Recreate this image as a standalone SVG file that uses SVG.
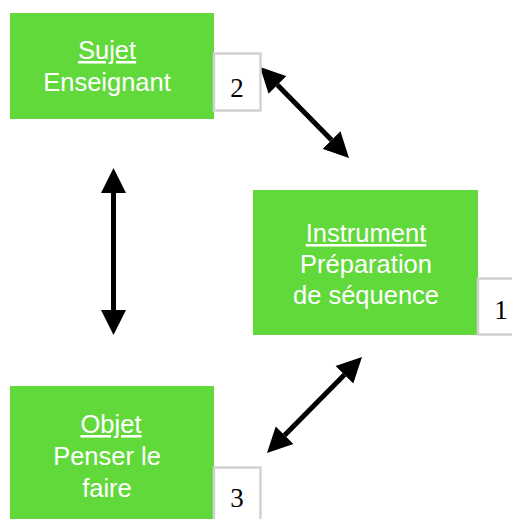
<svg xmlns="http://www.w3.org/2000/svg" width="512" height="519" viewBox="0 0 512 519">
  <style>
    .box { fill: #62d93b; }
    .lbl { font-family: "Liberation Sans", Arial, sans-serif; font-size: 25.5px; fill: #ffffff; text-anchor: middle; }
    .u { text-decoration: underline; }
    .num rect { fill: #ffffff; stroke: #d2d2d2; stroke-width: 2.5; }
    .num text { font-family: "Liberation Serif", "Times New Roman", serif; font-size: 27px; fill: #000000; text-anchor: middle; }
    .conn { stroke: #000000; stroke-width: 5; fill: none; marker-start: url(#head); marker-end: url(#head); }
  </style>
  <defs>
    <marker id="head" markerUnits="userSpaceOnUse" markerWidth="26" markerHeight="26" refX="0" refY="13" orient="auto-start-reverse" viewBox="0 0 26 26">
      <path d="M0,0.5 L25,13 L0,25.5 z" fill="#000000"/>
    </marker>
  </defs>
  <rect width="512" height="519" fill="#ffffff"/>

  <g id="connectors">
    <path class="conn" d="M277.5,84.9 L331.5,140.1"/>
    <path class="conn" d="M113.5,193 L113.5,310"/>
    <path class="conn" d="M344.4,374.8 L284.6,435.2"/>
  </g>

  <g id="sujet">
    <rect class="box" x="10" y="13" width="204" height="106"/>
    <text class="lbl u" x="107" y="59">Sujet</text>
    <text class="lbl" x="107" y="91">Enseignant</text>
  </g>
  <g id="num2" class="num">
    <rect x="214" y="53.5" width="46.5" height="57"/>
    <text x="237" y="97">2</text>
  </g>

  <g id="instrument">
    <rect class="box" x="253" y="190" width="225" height="145"/>
    <text class="lbl u" x="366" y="242">Instrument</text>
    <text class="lbl" x="366" y="273">Préparation</text>
    <text class="lbl" x="366" y="304">de séquence</text>
  </g>
  <g id="num1" class="num">
    <rect x="478" y="278.5" width="40" height="56"/>
    <text x="501" y="319">1</text>
  </g>

  <g id="objet">
    <rect class="box" x="10" y="386" width="204" height="140"/>
    <text class="lbl u" x="111" y="433">Objet</text>
    <text class="lbl" x="107" y="465">Penser le</text>
    <text class="lbl" x="107" y="497">faire</text>
  </g>
  <g id="num3" class="num">
    <rect x="214" y="467.5" width="46.5" height="60"/>
    <text x="237" y="507">3</text>
  </g>
</svg>
